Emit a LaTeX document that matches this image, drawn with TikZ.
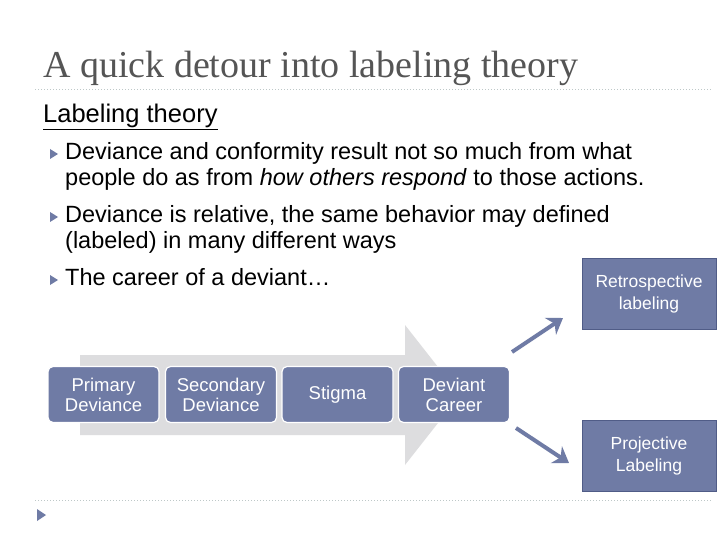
\documentclass[tikz,border=0pt]{standalone}
\usepackage{fontspec}
\setmainfont{Liberation Sans}
\newfontfamily\titlefont{Liberation Serif}
\usetikzlibrary{arrows.meta}
\definecolor{slate}{RGB}{111,123,165}
\definecolor{slatedark}{RGB}{80,92,135}
\definecolor{biggray}{RGB}{221,221,223}
\definecolor{titlegray}{RGB}{85,85,85}
\definecolor{dotgray}{RGB}{190,200,200}
\tikzset{
  chain/.style={draw=white, line width=1.2pt, fill=slate, rounded corners=5pt, minimum width=111pt, minimum height=56pt, text=white, align=center, font=\fontsize{18.5}{20}\selectfont, inner sep=2pt},
  side/.style={draw=slatedark, line width=0.8pt, fill=slate, minimum width=134pt, minimum height=71pt, text=white, align=center, font=\fontsize{17.5}{22}\selectfont},
  bul/.style={fill=slate, draw=none},
  txt/.style={anchor=north west, font=\fontsize{23.5}{26}\selectfont, align=left, inner sep=0pt},
  fat/.style={draw=slate, line width=4pt, -{Stealth[length=15pt,width=20pt]}},
  dotline/.style={draw=dotgray, dotted, line width=1pt}
}
\begin{document}
\begin{tikzpicture}[x=1pt,y=-1pt]
\useasboundingbox (0,0) rectangle (720,540);
\fill[white] (0,0) rectangle (720,540);
\node[anchor=west, inner sep=0pt, text=titlegray, font=\titlefont\fontsize{38}{40}\selectfont] (title) at (43,68) {A quick detour into labeling theory};
\draw[dotline] (35,90) -- (712,90);
\draw[dotline] (35,500) -- (712,500);
\fill[slate] (37,509) -- (46,515) -- (37,521) -- cycle;
\node[anchor=west, inner sep=0pt, font=\fontsize{25.5}{28}\selectfont] (sub) at (43,117) {\underline{Labeling theory}};
\foreach \y in {154,217,280} \fill[bul] (50,\y-5) -- (58,\y) -- (50,\y+5) -- cycle;
\node[txt] (b1) at (65,142) {Deviance and conformity result not so much from what\\people do as from \textit{how others respond} to those actions.};
\node[txt] (b2) at (65,205) {Deviance is relative, the same behavior may defined\\(labeled) in many different ways};
\node[txt] (b3) at (65,268) {The career of a deviant\ldots};
\fill[biggray] (80,355) -- (405,355) -- (405,325) -- (460,395) -- (405,465) -- (405,435) -- (80,435) -- cycle;
\node[chain] (p) at (103.5,394.5) {Primary\\Deviance};
\node[chain] (s) at (221,394.5) {Secondary\\Deviance};
\node[chain] (st) at (337.5,394.5) {Stigma};
\node[chain] (d) at (454,394.5) {Deviant\\Career};
\node[side] (r) at (649,294) {Retrospective\\labeling};
\node[side] (pj) at (649,455.5) {Projective\\Labeling};
\coordinate (a1) at (512,352);
\coordinate (a2) at (516,428);
\draw[fat] (a1) -- (563,318);
\draw[fat] (a2) -- (569,463);
\end{tikzpicture}
\end{document}
